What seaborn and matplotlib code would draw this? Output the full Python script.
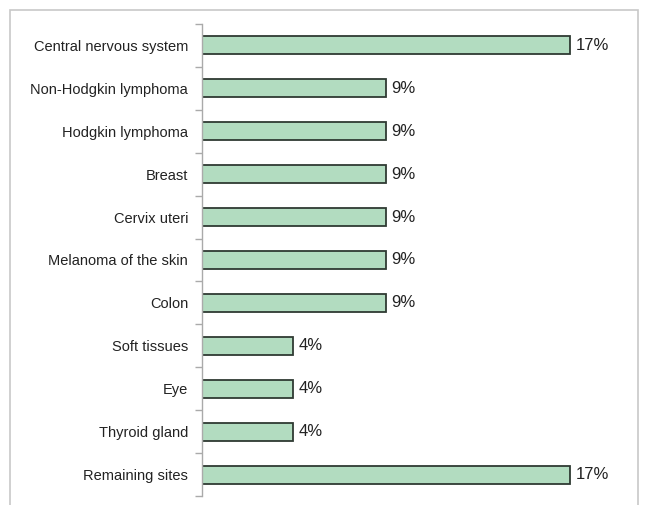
import matplotlib
matplotlib.use("Agg")
import matplotlib.pyplot as plt
import matplotlib.patches as mpatches
import seaborn as sns
import pandas as pd

sites = [
    "Central nervous system",
    "Non-Hodgkin lymphoma",
    "Hodgkin lymphoma",
    "Breast",
    "Cervix uteri",
    "Melanoma of the skin",
    "Colon",
    "Soft tissues",
    "Eye",
    "Thyroid gland",
    "Remaining sites",
]
share = [17.4, 8.7, 8.7, 8.7, 8.7, 8.7, 8.7, 4.3, 4.3, 4.3, 17.4]
share_labels = ["17%", "9%", "9%", "9%", "9%", "9%", "9%", "4%", "4%", "4%", "17%"]

df = pd.DataFrame({"site": sites, "share": share})

sns.set_style("white")
plt.rcParams["font.family"] = ["Liberation Sans", "DejaVu Sans"]

fig = plt.figure(figsize=(6.46, 5.05), dpi=100)
ax = fig.add_axes([202 / 646, 1 - 496 / 505, 400 / 646, 472 / 505])

sns.barplot(data=df, x="share", y="site", orient="h", color="#b2dcc0",
            edgecolor="#2f3a33", linewidth=1.3, width=0.42, saturation=1, ax=ax)

for i, (v, lab) in enumerate(zip(share, share_labels)):
    ax.text(v + 0.25, i, lab, va="center", ha="left", fontsize=12, color="#222222")

ax.set_xlim(0, 400 / 21.15)
ax.set_ylim(len(sites) - 0.5, -0.5)
ax.set_xlabel("")
ax.set_ylabel("")
ax.set_xticks([])

# ticks sit between categories, labels at the centers
ax.set_yticks([i - 0.5 for i in range(len(sites) + 1)], minor=False)
ax.set_yticklabels([])
ax.set_yticks(range(len(sites)), minor=True)
ax.set_yticklabels(sites, minor=True, fontsize=10.5, color="#222222")
ax.tick_params(axis="y", which="major", length=5, width=1, color="#aaaaaa", left=True)
ax.tick_params(axis="y", which="minor", length=0, pad=10)

for s in ["top", "right", "bottom"]:
    ax.spines[s].set_visible(False)
ax.spines["left"].set_color("#aaaaaa")
ax.spines["left"].set_linewidth(1)

frame = mpatches.Rectangle((10 / 646, -0.05), 628 / 646, 1.05 - 10 / 505,
                           transform=fig.transFigure, fill=False,
                           edgecolor="#c8c8c8", linewidth=1.2)
fig.patches.append(frame)

fig.savefig("out.png", dpi=100)
